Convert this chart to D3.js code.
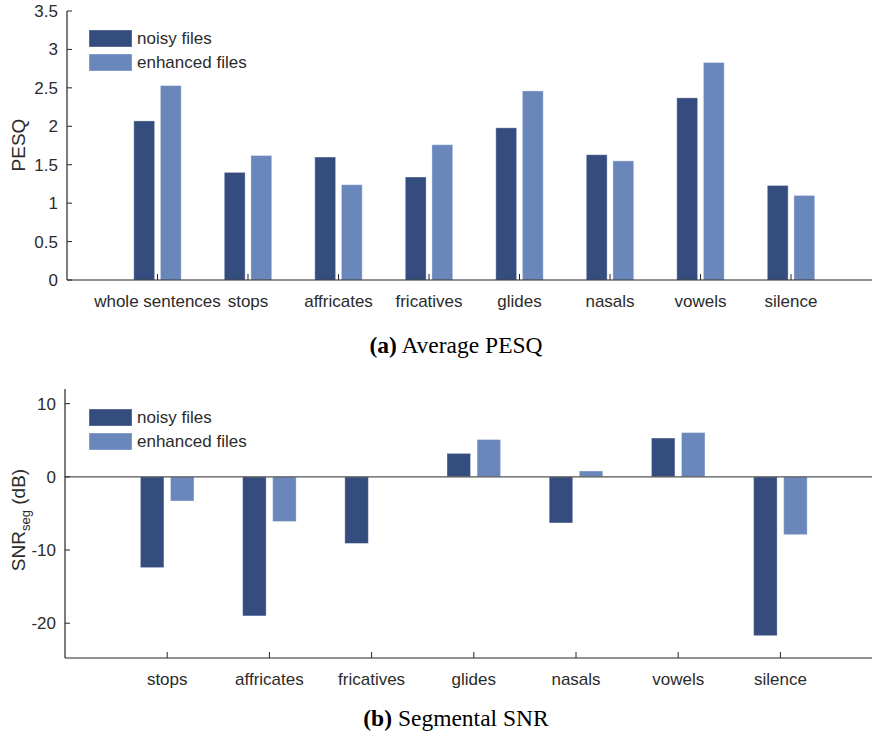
<!DOCTYPE html>
<html>
<head>
<meta charset="utf-8">
<script src="https://cdn.jsdelivr.net/npm/d3@7"></script>
<style>
  html, body { margin: 0; padding: 0; background: #fff; }
  svg { display: block; }
  .ax text { font-family: "Liberation Sans", Arial, sans-serif; fill: #2b2b2b; }
</style>
</head>
<body>
<svg id="fig" width="872" height="739"></svg>
<script>
// PESQ per phoneme class
const pesqCategories = ["whole sentences", "stops", "affricates", "fricatives", "glides", "nasals", "vowels", "silence"];
const pesqNoisy    = [2.07, 1.40, 1.60, 1.34, 1.98, 1.63, 2.37, 1.23];
const pesqEnhanced = [2.53, 1.62, 1.24, 1.76, 2.46, 1.55, 2.83, 1.10];
const pesqTicks = [0, 0.5, 1, 1.5, 2, 2.5, 3, 3.5];

// Segmental SNR per phoneme class (dB)
const snrCategories = ["stops", "affricates", "fricatives", "glides", "nasals", "vowels", "silence"];
const snrNoisy    = [-12.4, -19.0, -9.1, 3.2, -6.3, 5.3, -21.7];
const snrEnhanced = [-3.3, -6.1, 0, 5.1, 0.8, 6.05, -7.9];
const snrTicks = [-20, -10, 0, 10];

const seriesNames = ["noisy files", "enhanced files"];
const seriesColors = ["#344c7e", "#6a87bc"];

const svg = d3.select("#fig");
const AXC = "#262626";
const FS = 17;

function panel(opts) {
  const g = svg.append("g").attr("class", "ax");
  const x = d3.scaleLinear().domain(opts.xDomain).range(opts.xRange);
  const y = d3.scaleLinear().domain(opts.yDomain).range(opts.yRange);
  const bw = 0.23, off = 0.147;

  // bars
  [opts.noisy, opts.enhanced].forEach((vals, s) => {
    g.append("g").selectAll("rect").data(vals).join("rect")
      .attr("x", (d, i) => x(i + 1 + (s === 0 ? -off : off) - bw / 2))
      .attr("width", x(bw) - x(0))
      .attr("y", d => Math.min(y(d), y(0)))
      .attr("height", d => Math.abs(y(d) - y(0)))
      .attr("fill", seriesColors[s])
      .attr("stroke", "rgba(255,255,255,0.35)")
      .attr("stroke-width", 1);
  });

  // zero baseline (for signed data)
  if (opts.yDomain[0] < 0) {
    g.append("line")
      .attr("x1", opts.xRange[0]).attr("x2", 872)
      .attr("y1", y(0)).attr("y2", y(0))
      .attr("stroke", "#555").attr("stroke-width", 1.3);
  }

  // x axis line and inward ticks
  const yb = opts.yRange[0];
  g.append("line").attr("x1", opts.xRange[0]).attr("x2", 872)
    .attr("y1", yb).attr("y2", yb).attr("stroke", AXC).attr("stroke-width", 1.2);
  g.append("g").selectAll("line").data(opts.categories).join("line")
    .attr("x1", (d, i) => x(i + 1)).attr("x2", (d, i) => x(i + 1))
    .attr("y1", yb).attr("y2", yb - 6)
    .attr("stroke", AXC).attr("stroke-width", 1);
  g.append("g").selectAll("text").data(opts.categories).join("text")
    .attr("x", (d, i) => x(i + 1)).attr("y", yb + 27)
    .attr("text-anchor", "middle")
    .attr("font-size", FS)
    .text(d => d);

  // y axis line and inward ticks
  const xl = opts.xRange[0];
  g.append("line").attr("x1", xl).attr("x2", xl)
    .attr("y1", opts.yRange[1]).attr("y2", yb).attr("stroke", AXC).attr("stroke-width", 1.2);
  g.append("g").selectAll("line").data(opts.ticks).join("line")
    .attr("x1", xl).attr("x2", xl + 5)
    .attr("y1", d => y(d)).attr("y2", d => y(d))
    .attr("stroke", AXC).attr("stroke-width", 1);
  g.append("g").selectAll("text").data(opts.ticks).join("text")
    .attr("x", xl - 9).attr("y", d => y(d)).attr("dy", "0.35em")
    .attr("text-anchor", "end")
    .attr("font-size", FS)
    .text(d => String(d));

  // legend
  seriesNames.forEach((name, s) => {
    const ly = opts.legendY + s * 24;
    g.append("rect").attr("x", 89).attr("y", ly).attr("width", 43).attr("height", 17)
      .attr("fill", seriesColors[s]).attr("stroke", "rgba(255,255,255,0.35)");
    g.append("text").attr("x", 137).attr("y", ly + 8.5).attr("dy", "0.35em")
      .attr("font-size", FS).text(name);
  });

  // y label
  const lab = g.append("text")
    .attr("transform", `translate(${opts.yLabelX},${opts.yLabelY}) rotate(-90)`)
    .attr("text-anchor", "middle")
    .attr("font-size", 19);
  opts.yLabel(lab);

  // caption
  const cap = svg.append("text")
    .attr("x", 456).attr("y", opts.captionY)
    .attr("text-anchor", "middle")
    .attr("font-family", "'Liberation Serif', 'Times New Roman', serif")
    .attr("font-size", 23.5).attr("fill", "#000");
  cap.append("tspan").attr("font-weight", "bold").text(opts.captionTag);
  cap.append("tspan").text(" " + opts.caption);
}

panel({
  categories: pesqCategories, noisy: pesqNoisy, enhanced: pesqEnhanced, ticks: pesqTicks,
  xDomain: [0, 8.95], xRange: [67, 877],
  yDomain: [0, 3.5], yRange: [280, 11],
  legendY: 30,
  yLabelX: 25, yLabelY: 145,
  yLabel: t => t.text("PESQ"),
  captionY: 353, captionTag: "(a)", caption: "Average PESQ"
});

panel({
  categories: snrCategories, noisy: snrNoisy, enhanced: snrEnhanced, ticks: snrTicks,
  xDomain: [0, 8], xRange: [65, 882.6],
  yDomain: [-24.75, 12], yRange: [658, 389],
  legendY: 409,
  yLabelX: 25, yLabelY: 520,
  yLabel: t => {
    t.append("tspan").text("SNR");
    t.append("tspan").attr("font-size", 13).attr("dy", 5).text("seg");
    t.append("tspan").attr("dy", -5).text(" (dB)");
  },
  captionY: 726, captionTag: "(b)", caption: "Segmental SNR"
});
</script>
</body>
</html>
